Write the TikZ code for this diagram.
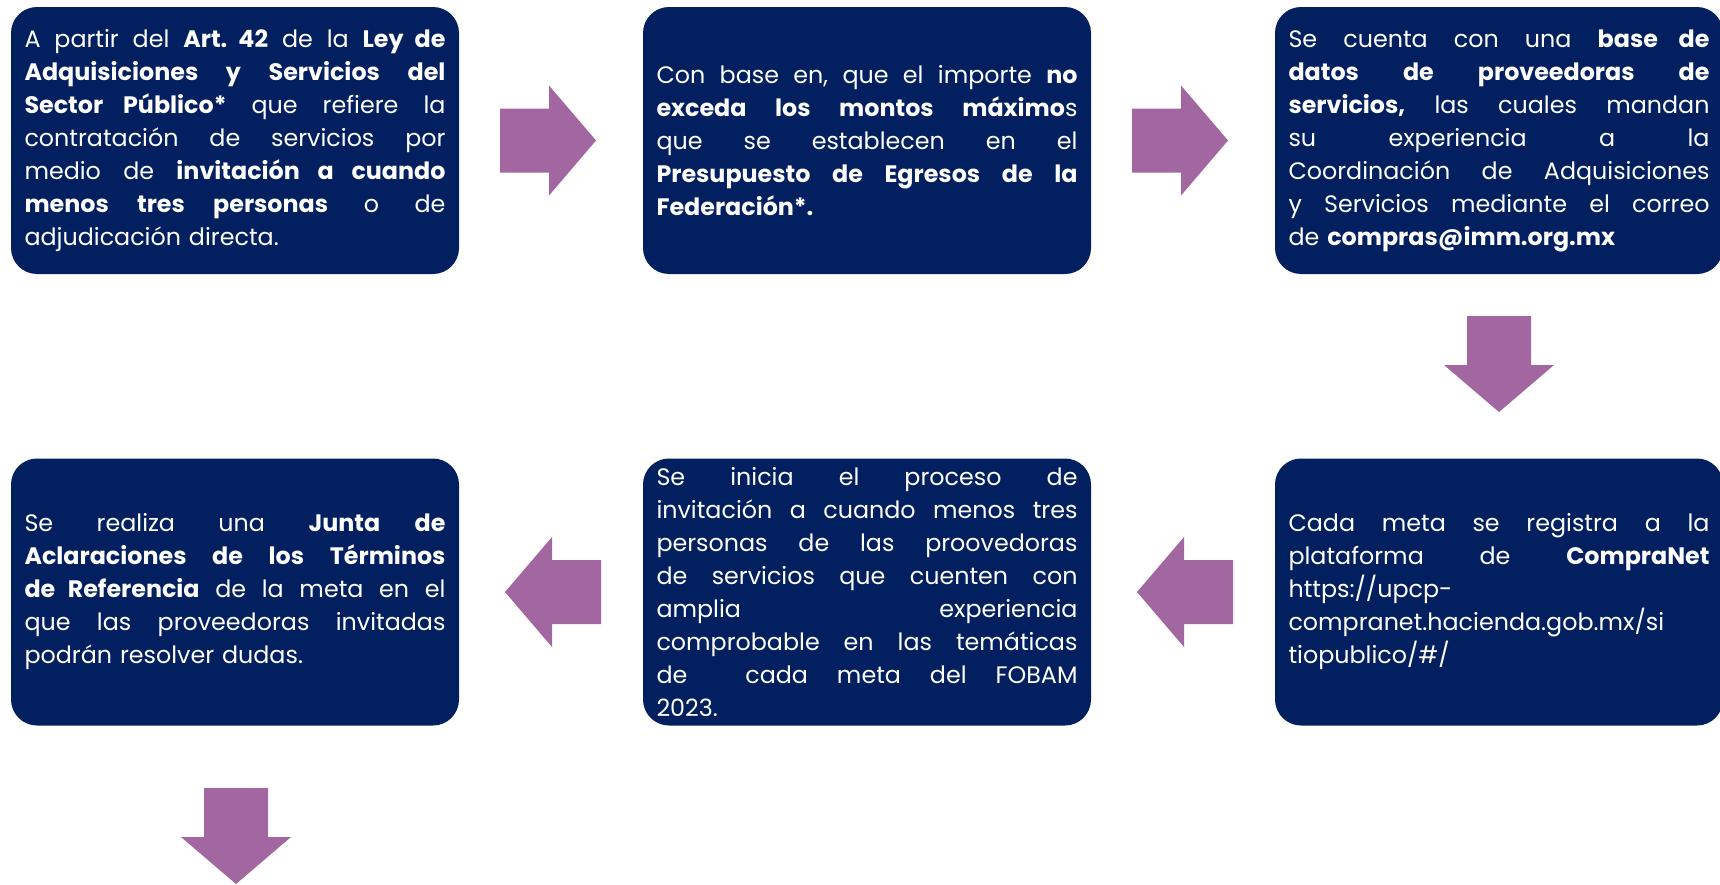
\documentclass[tikz,border=0pt]{standalone}
\usepackage{fontspec}
\setmainfont{Poppins}
\definecolor{boxblue}{HTML}{02205F}
\definecolor{arrowpurple}{HTML}{A266A0}
\newcommand\jl[1]{\makebox[421pt][s]{\spaceskip=0pt\xspaceskip=0pt\frenchspacing #1}}
\tikzset{
  stepbox/.style={rectangle, rounded corners=26pt, fill=boxblue,
    minimum width=448pt, minimum height=267pt, text width=421pt,
    align=left, inner sep=0pt, text=white,
    font=\fontsize{23.8}{33}\selectfont\frenchspacing},
  arrowR/.pic={\fill[arrowpurple] (0,-32) -- (49,-32) -- (49,-55) -- (96,0)
     -- (49,55) -- (49,32) -- (0,32) -- cycle;},
  arrowL/.pic={\fill[arrowpurple] (0,-32) -- (-49,-32) -- (-49,-55) -- (-96,0)
     -- (-49,55) -- (-49,32) -- (0,32) -- cycle;},
  arrowD/.pic={\fill[arrowpurple] (-32,0) -- (-32,49) -- (-55,49) -- (0,96)
     -- (55,49) -- (32,49) -- (32,0) -- cycle;},
}
\begin{document}
\begin{tikzpicture}[x=1pt,y=-1pt]
\useasboundingbox (0,0) rectangle (1720,884);
\fill[white] (0,0) rectangle (1720,884);

\node[stepbox] (b1) at (235,140.5) {%
\jl{A partir del \textbf{Art. 42} de la \textbf{Ley de}}\\
\jl{\textbf{Adquisiciones y Servicios del}}\\
\jl{\textbf{Sector Público*} que refiere la}\\
\jl{contratación de servicios por}\\
\jl{medio de \textbf{invitación a cuando}}\\
\jl{\textbf{menos tres personas} o de}\\
adjudicación directa.};

\node[stepbox] (b2) at (867,140.5) {%
\jl{Con base en, que el importe \textbf{no}}\\
\jl{\textbf{exceda los montos máximo}s}\\
\jl{que se establecen en el}\\
\jl{\textbf{Presupuesto de Egresos de la}}\\
\textbf{Federación*.}};

\node[stepbox] (b3) at (1499,140.5) {%
\jl{Se cuenta con una \textbf{base de}}\\
\jl{\textbf{datos de proveedoras de}}\\
\jl{\textbf{servicios,} las cuales mandan}\\
\jl{su experiencia a la}\\
\jl{Coordinación de Adquisiciones}\\
\jl{y Servicios mediante el correo}\\
de \textbf{compras@imm.org.mx}};

\node[stepbox] (b6) at (1499,592) {%
\jl{Cada meta se registra a la}\\
\jl{plataforma de \textbf{CompraNet}}\\
https://upcp-\\
compranet.hacienda.gob.mx/si\\
tiopublico/\#/};

\node[stepbox] (b5) at (867,592) {%
\jl{Se inicia el proceso de}\\
\jl{invitación a cuando menos tres}\\
\jl{personas de las proovedoras}\\
\jl{de servicios que cuenten con}\\
\jl{amplia experiencia}\\
\jl{comprobable en las temáticas}\\
\jl{de \ cada meta del FOBAM}\\
2023.};

\node[stepbox] (b4) at (235,592) {%
\jl{Se realiza una \textbf{Junta de}}\\
\jl{\textbf{Aclaraciones de los Términos}}\\
\jl{\textbf{de Referencia} de la meta en el}\\
\jl{que las proveedoras invitadas}\\
podrán resolver dudas.};

\pic (a1) at (500,140.5) {arrowR};
\pic (a2) at (1132,140.5) {arrowR};
\pic (a3) at (1499,316) {arrowD};
\pic (a4) at (1233,592) {arrowL};
\pic (a5) at (601,592) {arrowL};
\pic (a6) at (236,788) {arrowD};
\end{tikzpicture}
\end{document}
